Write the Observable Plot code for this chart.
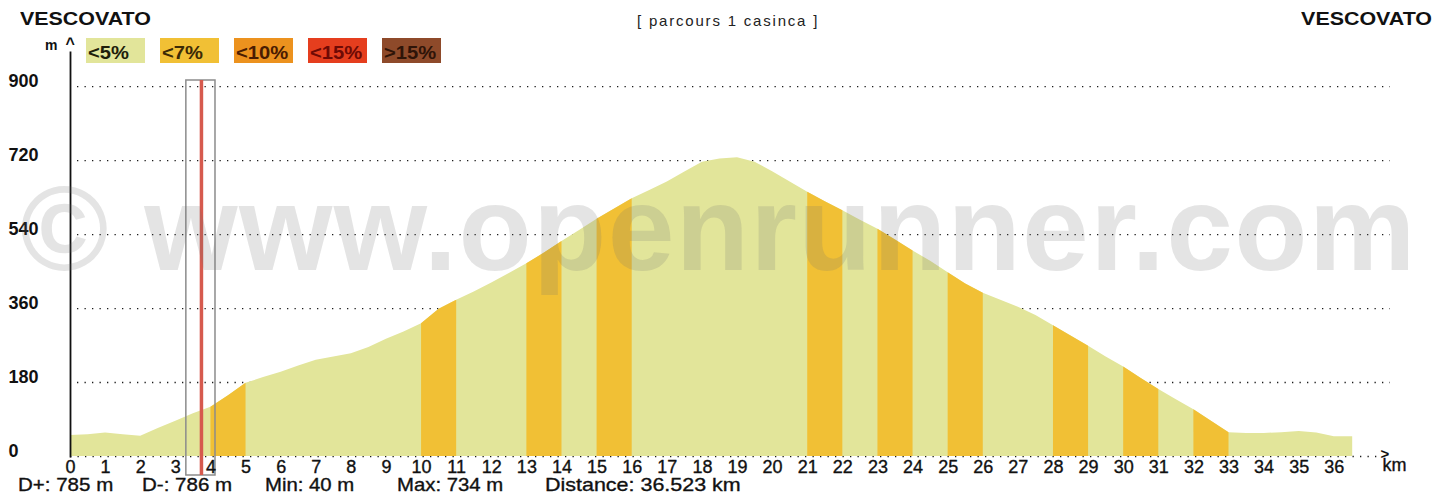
<!DOCTYPE html>
<html><head><meta charset="utf-8">
<script src="https://cdn.jsdelivr.net/npm/d3@7"></script>
<script src="https://cdn.jsdelivr.net/npm/@observablehq/plot@0.6"></script>
<style>
html,body{margin:0;padding:0;background:#fff;}
#wrap{position:relative;width:1434px;height:498px;overflow:hidden;font-family:"Liberation Sans",Arial,sans-serif;color:#111;}
#wrap svg{position:absolute;left:0;top:0;}
.t{position:absolute;white-space:nowrap;line-height:1;transform-origin:0 0;}
.sw{position:absolute;}
</style></head><body><div id="wrap"></div>
<script>
// ---- data ----
const distanceKm = [0,0.5,1,1.5,2,2.5,3,3.5,4,4.5,5,5.5,6,6.5,7,7.5,8,8.5,9,9.5,10,10.5,11,11.5,12,12.5,13,13.5,14,14.5,15,15.5,16,16.5,17,17.5,18,18.5,19,19.5,20,20.5,21,21.5,22,22.5,23,23.5,24,24.5,25,25.5,26,26.5,27,27.5,28,28.5,29,29.5,30,30.5,31,31.5,32,32.5,33,33.5,34,34.5,35,35.5,36,36.523];
const elevationM = [51,53,57,53,49,68,86,104,120,148,178,192,205,220,234,242,250,265,285,303,323,358,380,400,422,445,469,495,523,550,577,602,627,647,668,692,716,724,727,716,693,668,643,620,598,575,553,527,500,475,447,420,397,380,363,343,318,293,268,242,218,190,163,138,114,86,58,56,56,58,61,57,48,48];
const steepBandStart = [4,10,13,15,21,23,25,28,30,32];
const steepBandEnd   = [5,11,14,16,22,24,26,29,31,33];
const gradeClasses = ["<5%","<7%","<10%","<15%",">15%"];
const gradeColors  = ["#e2e59a","#f1c035","#ec921e","#e53e1e","#8e4a2a"];
const gradeTextColors = ["#1e1e0a","#3c2a05","#4a1c02","#6e0a05","#2e1408"];
const xTicks = d3.range(0, 37);
const yTicks = [0,180,360,540,720,900];
const cursorKm = [3.73];
const cursorBoxFrom = [3.30];
const cursorBoxTo = [4.13];
const titleLeft = "VESCOVATO";
const titleRight = "VESCOVATO";
const subtitle = "[ parcours 1 casinca ]";
const statTexts = ["D+: 785 m","D-: 786 m","Min: 40 m","Max: 734 m","Distance: 36.523 km"];
const watermark = "\u00A9 www.openrunner.com";

// ---- build ----
const profile = distanceKm.map((km, i) => ({km, elev: elevationM[i]}));
const bands = steepBandStart.map((a, i) => ({from: a, to: steepBandEnd[i]}));
const cursor = cursorKm.map((km, i) => ({km, from: cursorBoxFrom[i], to: cursorBoxTo[i]}));
const dots = "1.3 6.2";

const svg = Plot.plot({
  width: 1434, height: 498,
  marginLeft: 70, marginRight: 44, marginTop: 52, marginBottom: 42,
  x: {domain: [0, 37.6], axis: null},
  y: {domain: [0, 983], axis: null},
  style: {fontFamily: '"Liberation Sans", Arial, sans-serif', background: "transparent", overflow: "visible"},
  marks: [
    Plot.ruleY(yTicks.filter(v => v > 0), {stroke: "#1a1a1a", strokeWidth: 1.3, strokeDasharray: dots, insetLeft: 7}),
    Plot.ruleY([0], {stroke: "#1a1a1a", strokeWidth: 1.3, strokeDasharray: dots, insetRight: 9}),
    Plot.areaY(profile, {x: "km", y: "elev", fill: gradeColors[0]}),
    ...bands.map(b => Plot.areaY(profile.filter(d => d.km >= b.from && d.km <= b.to), {x: "km", y: "elev", fill: gradeColors[1]})),
    Plot.frame({anchor: "left", stroke: "#111", strokeWidth: 1.8}),
    Plot.rect(cursor, {x1: "from", x2: "to", fill: "none", stroke: "#8c8c8c", strokeWidth: 1.5, insetTop: 28, insetBottom: -19}),
    Plot.ruleX(cursor, {x: "km", stroke: "#d65a4e", strokeWidth: 3.5, insetTop: 28, insetBottom: -19}),
    Plot.text(yTicks, {y: d => d, text: d => String(d), frameAnchor: "left", textAnchor: "start", dx: -62, lineAnchor: "bottom", fontSize: 18, fontWeight: "bold", fill: "#111"}),
    Plot.text(xTicks, {x: d => d, text: d => String(d), frameAnchor: "bottom", lineAnchor: "top", dy: 4, fontSize: 18, fill: "#111", stroke: "#111", strokeWidth: 0.35}),
    Plot.text(["km"], {text: d => d, frameAnchor: "bottom-right", textAnchor: "start", lineAnchor: "top", dx: -8, dy: 2, fontSize: 18, fill: "#111", stroke: "#111", strokeWidth: 0.35}),
    Plot.text([">"], {text: d => d, frameAnchor: "bottom-right", textAnchor: "start", lineAnchor: "middle", dx: -10, dy: -2, fontSize: 15, fontWeight: "bold", fill: "#111"})
  ]
});

const wrap = document.getElementById("wrap");
wrap.appendChild(svg);

function addText(txt, o) {
  const el = document.createElement("div");
  el.className = "t";
  el.textContent = txt;
  const size = o.size;
  el.style.fontSize = size + "px";
  el.style.fontWeight = o.weight || "normal";
  el.style.color = o.color || "#111";
  el.style.top = (o.baseline - 0.8465 * size) + "px";
  if (o.ls) el.style.letterSpacing = o.ls + "px";
  if (o.stroke) el.style.webkitTextStroke = o.stroke + "px " + (o.color || "#111");
  if (o.right != null) { el.style.right = o.right + "px"; el.style.transformOrigin = "100% 0"; }
  else el.style.left = o.left + "px";
  el.style.transform = `scaleX(${o.sx || 1})`;
  wrap.appendChild(el);
  return el;
}

// titles
addText(titleLeft, {left: 20, baseline: 25, size: 18, weight: "bold", sx: 1.19});
addText(titleRight, {right: 2, baseline: 25, size: 18, weight: "bold", sx: 1.19});
addText(subtitle, {left: 637, baseline: 25.5, size: 15, ls: 1.8, color: "#222"});

// y unit
addText("m", {left: 45, baseline: 50, size: 14, weight: "bold"});
addText("^", {left: 65.5, baseline: 50, size: 16, weight: "bold"});

// legend
gradeClasses.forEach((c, i) => {
  const sw = document.createElement("div");
  sw.className = "sw";
  sw.style.left = (86 + 74 * i) + "px";
  sw.style.top = "38px";
  sw.style.width = "59px";
  sw.style.height = "25px";
  sw.style.background = gradeColors[i];
  wrap.appendChild(sw);
  addText(c, {left: 88 + 74 * i, baseline: 59, size: 18, weight: "bold", color: gradeTextColors[i], sx: 1.12});
});

// stats
const statLeft = [18, 142, 265, 397, 545];
const statScale = [1.08, 1.08, 1.07, 1.07, 1.13];
statTexts.forEach((s, i) => addText(s, {left: statLeft[i], baseline: 491, size: 19, stroke: 0.35, sx: statScale[i]}));

// watermark on top
const wm = addText(watermark, {left: 20, baseline: 270, size: 120, weight: "bold", ls: 1.3, color: "rgba(110,110,110,0.19)"});
wm.style.pointerEvents = "none";
</script>
</body></html>
